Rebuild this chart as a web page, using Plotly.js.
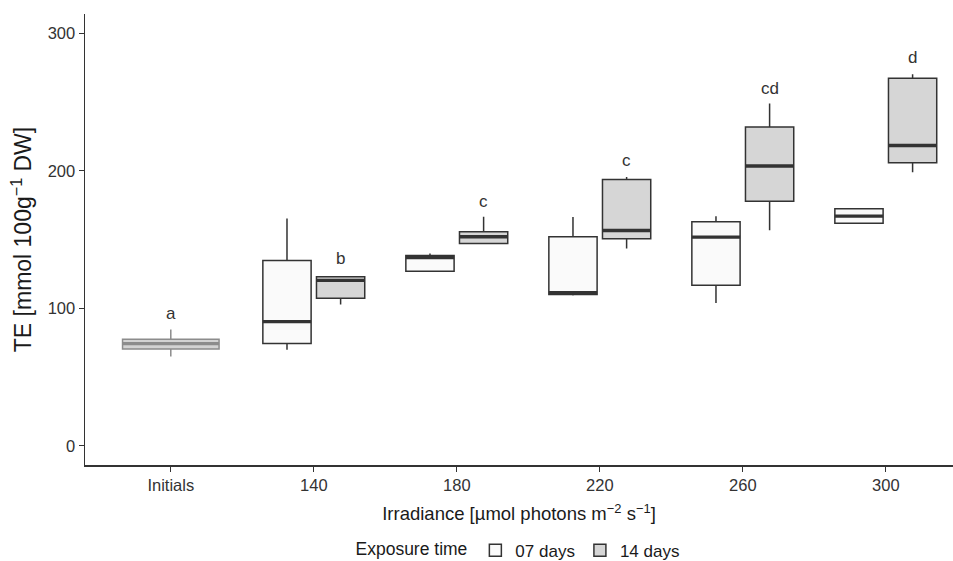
<!DOCTYPE html>
<html>
<head>
<meta charset="utf-8">
<script src="https://cdn.plot.ly/plotly-3.0.1.min.js"></script>
<style>html,body{margin:0;padding:0;background:#fff;}#chart{width:953px;height:561px;}</style>
</head>
<body>
<div id="chart"></div>
<script>
// ---- data ----
var categories = ["Initials", "140", "180", "220", "260", "300"];

// Initial samples
var initX = ["Initials"];
var initQ1 = [70.3];
var initMedian = [74.3];
var initQ3 = [77.5];
var initLower = [65.0];
var initUpper = [84.5];

// 07 days exposure
var d07X = ["140", "180", "220", "260", "300"];
var d07Q1 = [74.3, 126.9, 110.0, 116.7, 161.9];
var d07Median = [90.3, 136.9, 111.3, 151.7, 167.0];
var d07Q3 = [134.7, 138.4, 152.0, 162.9, 172.4];
var d07Lower = [69.9, 126.9, 109.2, 103.9, 161.9];
var d07Upper = [165.3, 139.8, 166.3, 167.0, 172.4];

// 14 days exposure
var d14X = ["140", "180", "220", "260", "300"];
var d14Q1 = [107.3, 147.1, 150.5, 177.9, 205.8];
var d14Median = [120.3, 152.0, 156.6, 203.4, 218.4];
var d14Q3 = [123.0, 155.6, 193.7, 231.8, 267.2];
var d14Lower = [102.7, 146.5, 143.4, 156.8, 199.0];
var d14Upper = [123.0, 166.5, 195.4, 249.0, 270.1];

// significance letters
var letters = ["a", "b", "c", "c", "cd", "d"];
var letterY = [96, 136, 178, 207.5, 260, 282.7];

var tickVals = [0, 100, 200, 300];

// ---- styles ----
var dark = "#333333";
var textCol = "#1a1a1a";
var fill07 = "#FAFAFA";
var fill14 = "#D6D6D6";
var initLine = "#8C8C8C";
var initFill = "#D3D3D3";
var boxW = 1.5;
var medW = 3.4;
var fam = "Liberation Sans, Arial, sans-serif";

function boxTrace(name, x, q1, med, q3, lo, hi, fill, col, lw, og, ag, show, width) {
  var t = {
    type: "box", name: name, x: x,
    q1: q1, median: med, q3: q3, lowerfence: lo, upperfence: hi,
    fillcolor: fill, line: {color: col, width: lw},
    whiskerwidth: 0, boxpoints: false,
    offsetgroup: og, alignmentgroup: ag,
    showlegend: show, hoverinfo: "skip", legendgroup: name
  };
  if (width) t.width = width;
  return t;
}

var traces = [
  boxTrace("Initials", initX, initQ1, initMedian, initQ3, initLower, initUpper, initFill, initLine, boxW, "i", "init", false, 0.675),
  boxTrace("Initials", initX, initMedian, initMedian, initMedian, initMedian, initMedian, initFill, initLine, medW, "i", "init", false, 0.675),
  boxTrace("07 days", d07X, d07Q1, d07Median, d07Q3, d07Lower, d07Upper, fill07, dark, boxW, "a", "g", true),
  boxTrace("07 days", d07X, d07Median, d07Median, d07Median, d07Median, d07Median, fill07, dark, medW, "a", "g", false),
  boxTrace("14 days", d14X, d14Q1, d14Median, d14Q3, d14Lower, d14Upper, fill14, dark, boxW, "b", "g", true),
  boxTrace("14 days", d14X, d14Median, d14Median, d14Median, d14Median, d14Median, fill14, dark, medW, "b", "g", false)
];

var annotations = letters.map(function (txt, i) {
  return {
    x: i === 0 ? 0 : i + 0.1875, y: letterY[i], xref: "x", yref: "y",
    text: txt, showarrow: false, xanchor: "center", yanchor: "middle",
    font: {family: fam, size: 17, color: dark}
  };
});

var layout = {
  width: 953, height: 561,
  margin: {l: 84.5, r: 0, t: 14, b: 96, autoexpand: false},
  paper_bgcolor: "#fff", plot_bgcolor: "#fff",
  font: {family: fam, size: 16, color: dark},
  boxmode: "group", boxgap: 0.25, boxgroupgap: 0.1,
  showlegend: true,
  xaxis: {
    type: "category", categoryorder: "array", categoryarray: categories,
    range: [-0.6, 5.47],
    showline: true, linecolor: dark, linewidth: 1.5,
    ticks: "outside", ticklen: 5, tickcolor: dark, tickwidth: 1.2,
    showgrid: false, zeroline: false,
    tickfont: {size: 16.5, color: dark},
    title: {text: "Irradiance [µmol photons m<sup>−2</sup> s<sup>−1</sup>]", font: {size: 18.5, color: textCol}, standoff: 14},
    automargin: false, fixedrange: true
  },
  yaxis: {
    range: [-14.0, 314.0],
    tickvals: tickVals,
    showline: true, linecolor: dark, linewidth: 1.5,
    ticks: "outside", ticklen: 5, tickcolor: dark, tickwidth: 1.2,
    showgrid: false, zeroline: false,
    tickfont: {size: 16.5, color: dark},
    title: {text: "TE [mmol 100g<sup>−1</sup> DW]", font: {size: 23, color: textCol}, standoff: 9},
    automargin: false, fixedrange: true
  },
  legend: {
    orientation: "h", x: 0.5, xanchor: "center", y: -0.19, yanchor: "middle",
    title: {text: "Exposure time", side: "left", font: {size: 17.5, color: textCol}},
    font: {size: 17, color: textCol},
    itemwidth: 30,
    bgcolor: "rgba(0,0,0,0)"
  },
  annotations: annotations
};

Plotly.newPlot("chart", traces, layout, {displayModeBar: false, staticPlot: true});
</script>
</body>
</html>
